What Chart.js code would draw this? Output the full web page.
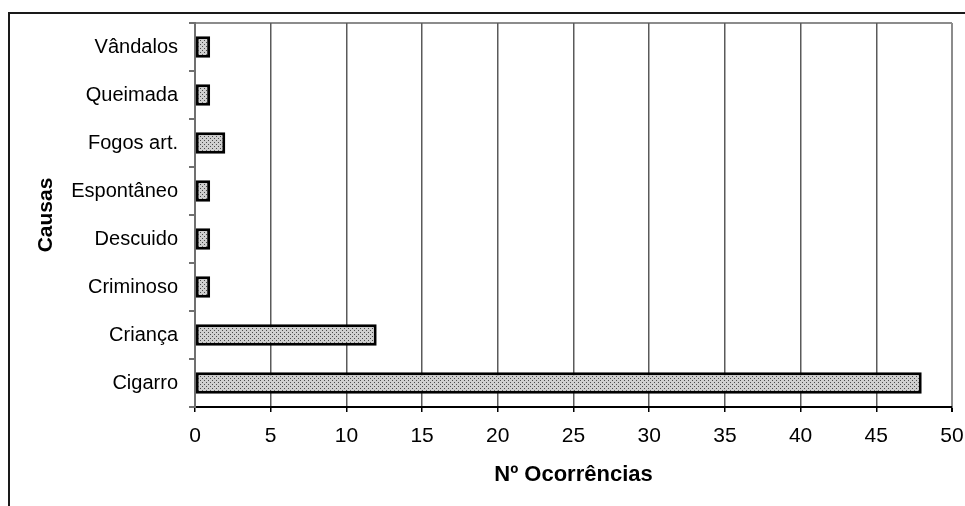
<!DOCTYPE html>
<html>
<head>
<meta charset="utf-8">
<script src="https://cdn.jsdelivr.net/npm/chart.js@4/dist/chart.umd.min.js"></script>
<style>
  html, body { margin: 0; padding: 0; background: #fff; }
  canvas { display: block; }
</style>
</head>
<body>
<canvas id="c" width="965" height="506"></canvas>
<script>
const categories = ['Vândalos', 'Queimada', 'Fogos art.', 'Espontâneo', 'Descuido', 'Criminoso', 'Criança', 'Cigarro'];
const occurrences = [1, 1, 2, 1, 1, 1, 12, 48];
const xTitle = 'Nº Ocorrências';
const yTitle = 'Causas';

// dotted fill pattern
function makePattern() {
  const p = document.createElement('canvas');
  p.width = 4; p.height = 4;
  const g = p.getContext('2d');
  g.fillStyle = '#cfcfcf';
  g.fillRect(0, 0, 4, 4);
  g.fillStyle = '#4a4a4a';
  g.fillRect(0, 0, 1, 1);
  g.fillRect(2, 2, 1, 1);
  return g.createPattern(p, 'repeat');
}

const frame = {
  id: 'frame',
  beforeDraw(chart) {
    const ctx = chart.ctx;
    ctx.save();
    ctx.strokeStyle = '#1a1a1a';
    ctx.lineWidth = 2;
    ctx.beginPath();
    ctx.moveTo(9, 506);
    ctx.lineTo(9, 13);
    ctx.lineTo(965, 13);
    ctx.stroke();
    const a = chart.chartArea;
    ctx.strokeStyle = '#8c8c8c';
    ctx.lineWidth = 2;
    ctx.beginPath();
    ctx.moveTo(a.left, a.top);
    ctx.lineTo(a.right, a.top);
    ctx.stroke();
    ctx.restore();
  }
};

const FONT = "'Liberation Sans', Arial, sans-serif";

new Chart(document.getElementById('c'), {
  type: 'bar',
  data: {
    labels: categories,
    datasets: [{
      data: occurrences,
      backgroundColor: makePattern(),
      borderColor: '#000',
      borderWidth: 3,
      borderSkipped: false,
      categoryPercentage: 1,
      barPercentage: 0.45
    }]
  },
  plugins: [frame],
  options: {
    indexAxis: 'y',
    responsive: false,
    animation: false,
    layout: { padding: { left: 30, top: 23, right: 13, bottom: 14 } },
    plugins: { legend: { display: false }, tooltip: { enabled: false } },
    scales: {
      x: {
        min: 0, max: 50,
        ticks: { stepSize: 5, color: '#000', font: { family: FONT, size: 21 }, padding: 12, maxRotation: 0 },
        grid: {
          color: (c) => (c.index === 10 ? '#8c8c8c' : '#5a5a5a'),
          lineWidth: (c) => (c.index === 10 ? 2 : 1.5),
          tickColor: '#000',
          tickLength: 5,
          drawTicks: true
        },
        border: { color: '#000', width: 2 },
        title: { display: true, text: xTitle, color: '#000', font: { family: FONT, size: 22, weight: 'bold' } },
        afterFit(s) { s.height = 85; s.paddingRight = 0; s.paddingLeft = 0; }
      },
      y: {
        ticks: { color: '#000', font: { family: FONT, size: 20 }, padding: 11 },
        grid: { drawOnChartArea: false, drawTicks: true, tickLength: 6, color: '#707070', tickColor: '#707070', lineWidth: 2, offset: true },
        border: { color: '#707070', width: 2 },
        title: { display: true, text: yTitle, color: '#000', font: { family: FONT, size: 21, weight: 'bold' } },
        afterFit(s) { s.width = 165; s.paddingTop = 0; s.paddingBottom = 0; }
      }
    }
  }
});
</script>
</body>
</html>
